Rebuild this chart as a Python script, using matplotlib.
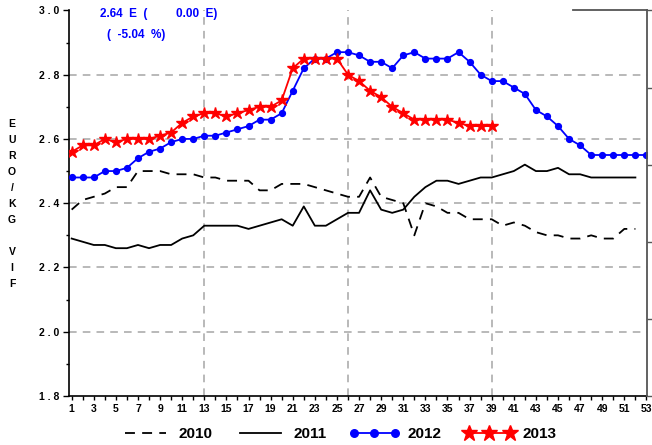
import matplotlib
matplotlib.use("Agg")
import matplotlib.pyplot as plt
from matplotlib.ticker import MultipleLocator, FuncFormatter

plt.rcParams['font.family'] = ['Liberation Sans', 'DejaVu Sans']
plt.rcParams['font.weight'] = 'bold'

# ---- data ----
v2010 = [2.38, 2.41, 2.42, 2.43, 2.45, 2.45, 2.50, 2.50, 2.50, 2.49,
         2.49, 2.49, 2.48, 2.48, 2.47, 2.47, 2.47, 2.44, 2.44, 2.46,
         2.46, 2.46, 2.45, 2.44, 2.43, 2.42, 2.42, 2.48, 2.42, 2.41,
         2.40, 2.30, 2.40, 2.39, 2.37, 2.37, 2.35, 2.35, 2.35, 2.33,
         2.34, 2.33, 2.31, 2.30, 2.30, 2.29, 2.29, 2.30, 2.29, 2.29,
         2.32, 2.32]
v2011 = [2.29, 2.28, 2.27, 2.27, 2.26, 2.26, 2.27, 2.26, 2.27, 2.27,
         2.29, 2.30, 2.33, 2.33, 2.33, 2.33, 2.32, 2.33, 2.34, 2.35,
         2.33, 2.39, 2.33, 2.33, 2.35, 2.37, 2.37, 2.44, 2.38, 2.37,
         2.38, 2.42, 2.45, 2.47, 2.47, 2.46, 2.47, 2.48, 2.48, 2.49,
         2.50, 2.52, 2.50, 2.50, 2.51, 2.49, 2.49, 2.48, 2.48, 2.48,
         2.48, 2.48]
v2012 = [2.48, 2.48, 2.48, 2.50, 2.50, 2.51, 2.54, 2.56, 2.57, 2.59,
         2.60, 2.60, 2.61, 2.61, 2.62, 2.63, 2.64, 2.66, 2.66, 2.68,
         2.75, 2.82, 2.85, 2.85, 2.87, 2.87, 2.86, 2.84, 2.84, 2.82,
         2.86, 2.87, 2.85, 2.85, 2.85, 2.87, 2.84, 2.80, 2.78, 2.78,
         2.76, 2.74, 2.69, 2.67, 2.64, 2.60, 2.58, 2.55, 2.55, 2.55,
         2.55, 2.55, 2.55]
v2013 = [2.56, 2.58, 2.58, 2.60, 2.59, 2.60, 2.60, 2.60, 2.61, 2.62,
         2.65, 2.67, 2.68, 2.68, 2.67, 2.68, 2.69, 2.70, 2.70, 2.72,
         2.82, 2.85, 2.85, 2.85, 2.85, 2.80, 2.78, 2.75, 2.73, 2.70,
         2.68, 2.66, 2.66, 2.66, 2.66, 2.65, 2.64, 2.64, 2.64]
years = ['2010', '2011', '2012', '2013']
all_weeks = list(range(1, 54))
ylabel_letters = ['E', 'U', 'R', 'O', '/', 'K', 'G', ' ', 'V', 'I', 'F']
hgrid = [2.0, 2.2, 2.4, 2.6, 2.8]
vgrid = [13, 26, 39]

def weeks(v):
    return list(range(1, len(v) + 1))

W, H = 652, 445
fig = plt.figure(figsize=(W / 100, H / 100), dpi=100)
ax = fig.add_axes([69 / W, 1 - 396 / H, (647 - 69) / W, (396 - 10.4) / H])

gridkw = dict(color='#a6a6a6', lw=1.1, linestyle=(0, (5, 4)), zorder=1)
for g in hgrid:
    ax.axhline(g, **gridkw)
for g in vgrid:
    ax.axvline(g, **gridkw)

ax.plot(weeks(v2010), v2010, color='black', lw=1.3, linestyle=(0, (5.5, 4)),
        label=years[0], zorder=3)
ax.plot(weeks(v2011), v2011, color='black', lw=1.3, label=years[1], zorder=3)
ax.plot(weeks(v2012), v2012, color='#0000ff', lw=1.3, marker='o', ms=4.2,
        label=years[2], zorder=4)
ax.plot(weeks(v2013), v2013, color='#ff0000', lw=1.3, marker='*', ms=9,
        label=years[3], zorder=5)

ax.set_xlim(0.76, 53.05)
ax.set_ylim(1.8, 3.0)
ax.set_xticks(all_weeks)
ax.set_xticklabels([str(w) if w % 2 else '' for w in all_weeks])
ax.yaxis.set_major_locator(MultipleLocator(0.2))
ax.yaxis.set_minor_locator(MultipleLocator(0.1))
ax.yaxis.set_major_formatter(FuncFormatter(lambda v, _: ' . '.join(f"{v:.1f}".split('.'))))
ax.tick_params(axis='x', length=3, width=1, labelsize=7.5, pad=3)
ax.tick_params(axis='y', which='major', length=4, width=1, labelsize=7.5, pad=3)
ax.tick_params(axis='y', which='minor', length=2.5, width=1)
for lab in ax.get_xticklabels() + ax.get_yticklabels():
    lab.set_fontweight('bold')
ax.spines['top'].set_visible(False)
ax.spines['right'].set_visible(False)
ax.spines['left'].set_linewidth(1.2)
ax.spines['bottom'].set_linewidth(1.2)

# secondary right axis frame
ax2 = ax.twinx()
ax2.set_ylim(0, 5)
ax2.set_yticks(range(6))
ax2.tick_params(axis='y', labelright=False, length=4, width=1, color='#555555')
ax2.spines['left'].set_visible(False)
ax2.spines['bottom'].set_visible(False)
ax2.spines['right'].set_color('#555555')
ax2.spines['right'].set_linewidth(1.3)
ax2.spines['top'].set_color('#555555')
ax2.spines['top'].set_linewidth(1.3)
ax2.spines['top'].set_bounds(46.4, 53.05)
ax2.set_xlim(ax.get_xlim())

# y label as stacked letters
for i, ch in enumerate(ylabel_letters):
    fig.text(12 / W, 1 - (124 + 16 * i) / H, ch, ha='center', va='center',
             fontsize=7.5, fontweight='bold')

# top annotation (last 2013 value, week change, change vs 2012)
last = v2013[-1]
wk_change = v2013[-1] - v2013[-2]
pct = (v2013[-1] - v2012[len(v2013) - 1]) / v2012[len(v2013) - 1] * 100
blue = '#0000ff'
fig.text(100 / W, 1 - 14 / H, f"{last:.2f}  E  (", color=blue, fontsize=8.5,
         fontweight='bold', va='center', ha='left')
fig.text(217 / W, 1 - 14 / H, f"{abs(wk_change):.2f}  E)", color=blue, fontsize=8.5,
         fontweight='bold', va='center', ha='right')
fig.text(107 / W, 1 - 35 / H, f"(  {pct:.2f}  %)", color=blue, fontsize=8.5,
         fontweight='bold', va='center', ha='left')

leg = fig.legend(loc='center', bbox_to_anchor=(338.5 / W, 1 - 434 / H), ncol=4,
                 frameon=False, fontsize=11, handlelength=3.3, handletextpad=0.55,
                 columnspacing=1.45, numpoints=3, markerscale=1.3)
for t in leg.get_texts():
    t.set_fontweight('bold')

fig.savefig('out.png', dpi=100)
